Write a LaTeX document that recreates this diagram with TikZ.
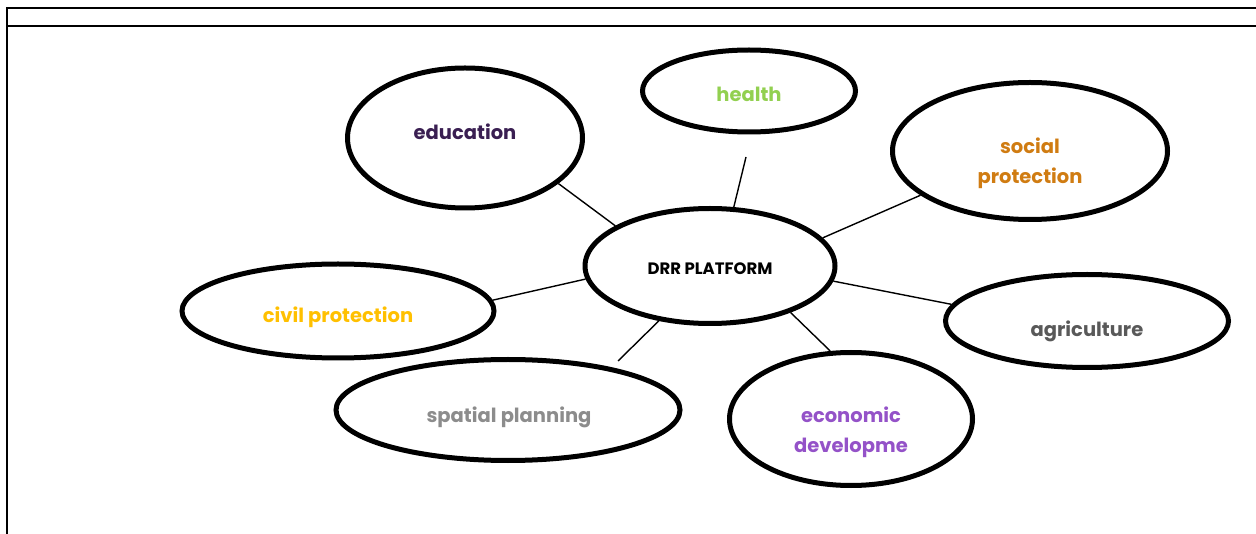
\documentclass[tikz,border=0pt]{standalone}
\usepackage{fontspec}
\setmainfont{Poppins}
\usetikzlibrary{shapes.geometric}
\definecolor{cEdu}{HTML}{3A1F52}
\definecolor{cHealth}{HTML}{92D050}
\definecolor{cSocial}{HTML}{D07C12}
\definecolor{cCivil}{HTML}{FFC000}
\definecolor{cAgri}{HTML}{595959}
\definecolor{cSpatial}{HTML}{8C8C8C}
\definecolor{cEcon}{HTML}{9452C8}
\tikzset{
  bubble/.style={ellipse, draw=black, line width=5pt, fill=white, inner sep=0pt},
  caption/.style={align=center, inner sep=0pt, yshift=-1.5pt, font=\fontsize{19.5}{30}\selectfont\bfseries},
  hubcaption/.style={caption, font=\fontsize{16.5}{20}\selectfont\bfseries},
  link/.style={draw=black, line width=1.4pt},
  frame/.style={draw=black, line width=2.6pt}
}
\begin{document}
\begin{tikzpicture}[x=1pt,y=-1pt]
\useasboundingbox (0,0) rectangle (1256,534);
% page frame
\draw[frame] (7,534) -- (7,8) -- (1258,8);
\draw[frame] (6,26) -- (1258,26);

% bubbles
\node[bubble, minimum width=250, minimum height=115] (drr) at (710,266) {};
\node[bubble, minimum width=235, minimum height=140] (edu) at (465,138) {};
\node[bubble, minimum width=213, minimum height=82] (hea) at (749,91) {};
\node[bubble, minimum width=275, minimum height=137] (soc) at (1030,151) {};
\node[bubble, minimum width=312, minimum height=94] (civ) at (338,311) {};
\node[bubble, minimum width=283, minimum height=93] (agr) at (1087,321) {};
\node[bubble, minimum width=344, minimum height=101] (spa) at (508,410) {};
\node[bubble, minimum width=243, minimum height=133] (eco) at (851,419) {};

% captions inside the bubbles
\node[hubcaption] (drrT) at (710,267) {DRR PLATFORM};
\node[caption, text=cEdu] (eduT) at (465,130) {education};
\node[caption, text=cHealth] (heaT) at (749,93) {health};
\node[caption, text=cSocial] (socT) at (1030,162) {social\\protection};
\node[caption, text=cCivil] (civT) at (338,316) {civil protection};
\node[caption, text=cAgri] (agrT) at (1087,330) {agriculture};
\node[caption, text=cSpatial] (spaT) at (509,416) {spatial planning};
\node[caption, text=cEcon] (ecoT) at (851,431) {economic\\developme};

% free ends of the short spokes
\coordinate (heaEnd) at (746,157);
\coordinate (spaEnd) at (618,361);

% spokes
\draw[link] (edu.-26.6) -- (drr.157.3);
\draw[link] (heaEnd) -- (drr.68.5);
\draw[link] (soc.202.9) -- (drr.14.9);
\draw[link] (civ.4.3) -- (drr.186.8);
\draw[link] (drr.-7.2) -- (agr.173.4);
\draw[link] (spaEnd) -- (drr.227.1);
\draw[link] (drr.-30) -- (eco.107.2);
\end{tikzpicture}
\end{document}
